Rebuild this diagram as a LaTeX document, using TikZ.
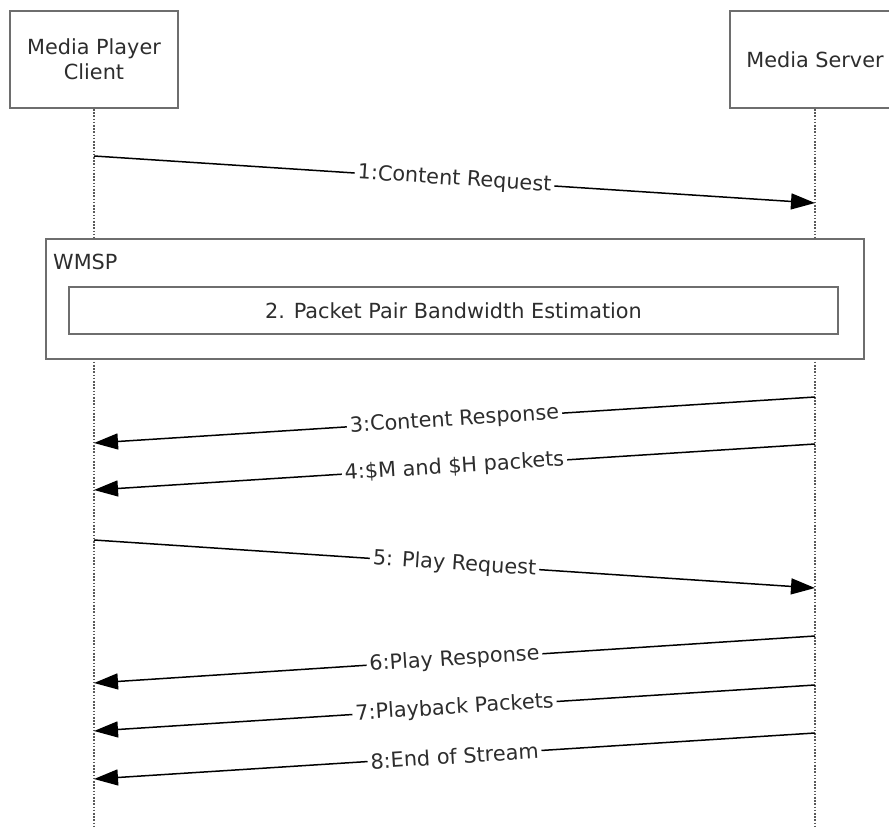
\documentclass[tikz,border=0pt]{standalone}
\usepackage{fontspec}
\setmainfont{DejaVu Sans}
\usetikzlibrary{positioning,arrows.meta}
\definecolor{boxgray}{RGB}{110,110,110}
\definecolor{txtgray}{RGB}{45,45,45}

\begin{document}
\begin{tikzpicture}
    [x=1pt,y=-1pt,font=\fontsize{20.8}{25}\selectfont,
     actor/.style={rectangle,draw=boxgray,line width=1.8pt,fill=white,minimum width=168pt,minimum height=97pt,align=center,text=txtgray},
     life/.style={draw=black!65,dash pattern=on 1.6pt off 1.6pt,line width=1.8pt},
     frame/.style={rectangle,draw=boxgray,line width=1.8pt,fill=white},
     msg/.style={draw=black,line width=1.5pt,-{Triangle[length=24pt,width=16pt]}},
     lbl/.style={midway,sloped,fill=white,inner sep=3pt,text=txtgray}]
    \useasboundingbox (0,0) rectangle (889,827);

    \node[actor] (client) at (94,59.5) {Media Player\\Client};
    \node[actor,minimum width=170pt] (server) at (815,59.5) {Media Server};
    \coordinate (cend) at (94,827);
    \coordinate (send) at (815,827);
    \draw[life] (client.south) -- (cend);
    \draw[life] (server.south) -- (send);

    % message 1
    \coordinate (c1) at (94,156);
    \coordinate (s1) at (815,203);
    \draw[msg] (c1) -- node[lbl] {1:Content Request} (s1);

    % WMSP fragment
    \node[frame,minimum width=818pt,minimum height=120pt] (wmsp) at (455,299) {};
    \node[anchor=west,text=txtgray,inner sep=0pt] (wmsplbl) at (53,262) {WMSP};
    \node[frame,minimum width=769pt,minimum height=47pt,text=txtgray] (ppbe) at (453.5,310.5) {2. Packet Pair Bandwidth Estimation};

    % server responses
    \coordinate (s3) at (815,397);
    \coordinate (c3) at (94,443);
    \draw[msg] (s3) -- node[lbl] {3:Content Response} (c3);
    \coordinate (s4) at (815,444);
    \coordinate (c4) at (94,490);
    \draw[msg] (s4) -- node[lbl] {4:\$M and \$H packets} (c4);

    \coordinate (c5) at (94,540);
    \coordinate (s5) at (815,588);
    \draw[msg] (c5) -- node[lbl] {5: Play Request} (s5);

    \coordinate (s6) at (815,636);
    \coordinate (c6) at (94,683);
    \draw[msg] (s6) -- node[lbl] {6:Play Response} (c6);
    \coordinate (s7) at (815,685);
    \coordinate (c7) at (94,731);
    \draw[msg] (s7) -- node[lbl] {7:Playback Packets} (c7);
    \coordinate (s8) at (815,733);
    \coordinate (c8) at (94,779);
    \draw[msg] (s8) -- node[lbl] {8:End of Stream} (c8);
\end{tikzpicture}
\end{document}
